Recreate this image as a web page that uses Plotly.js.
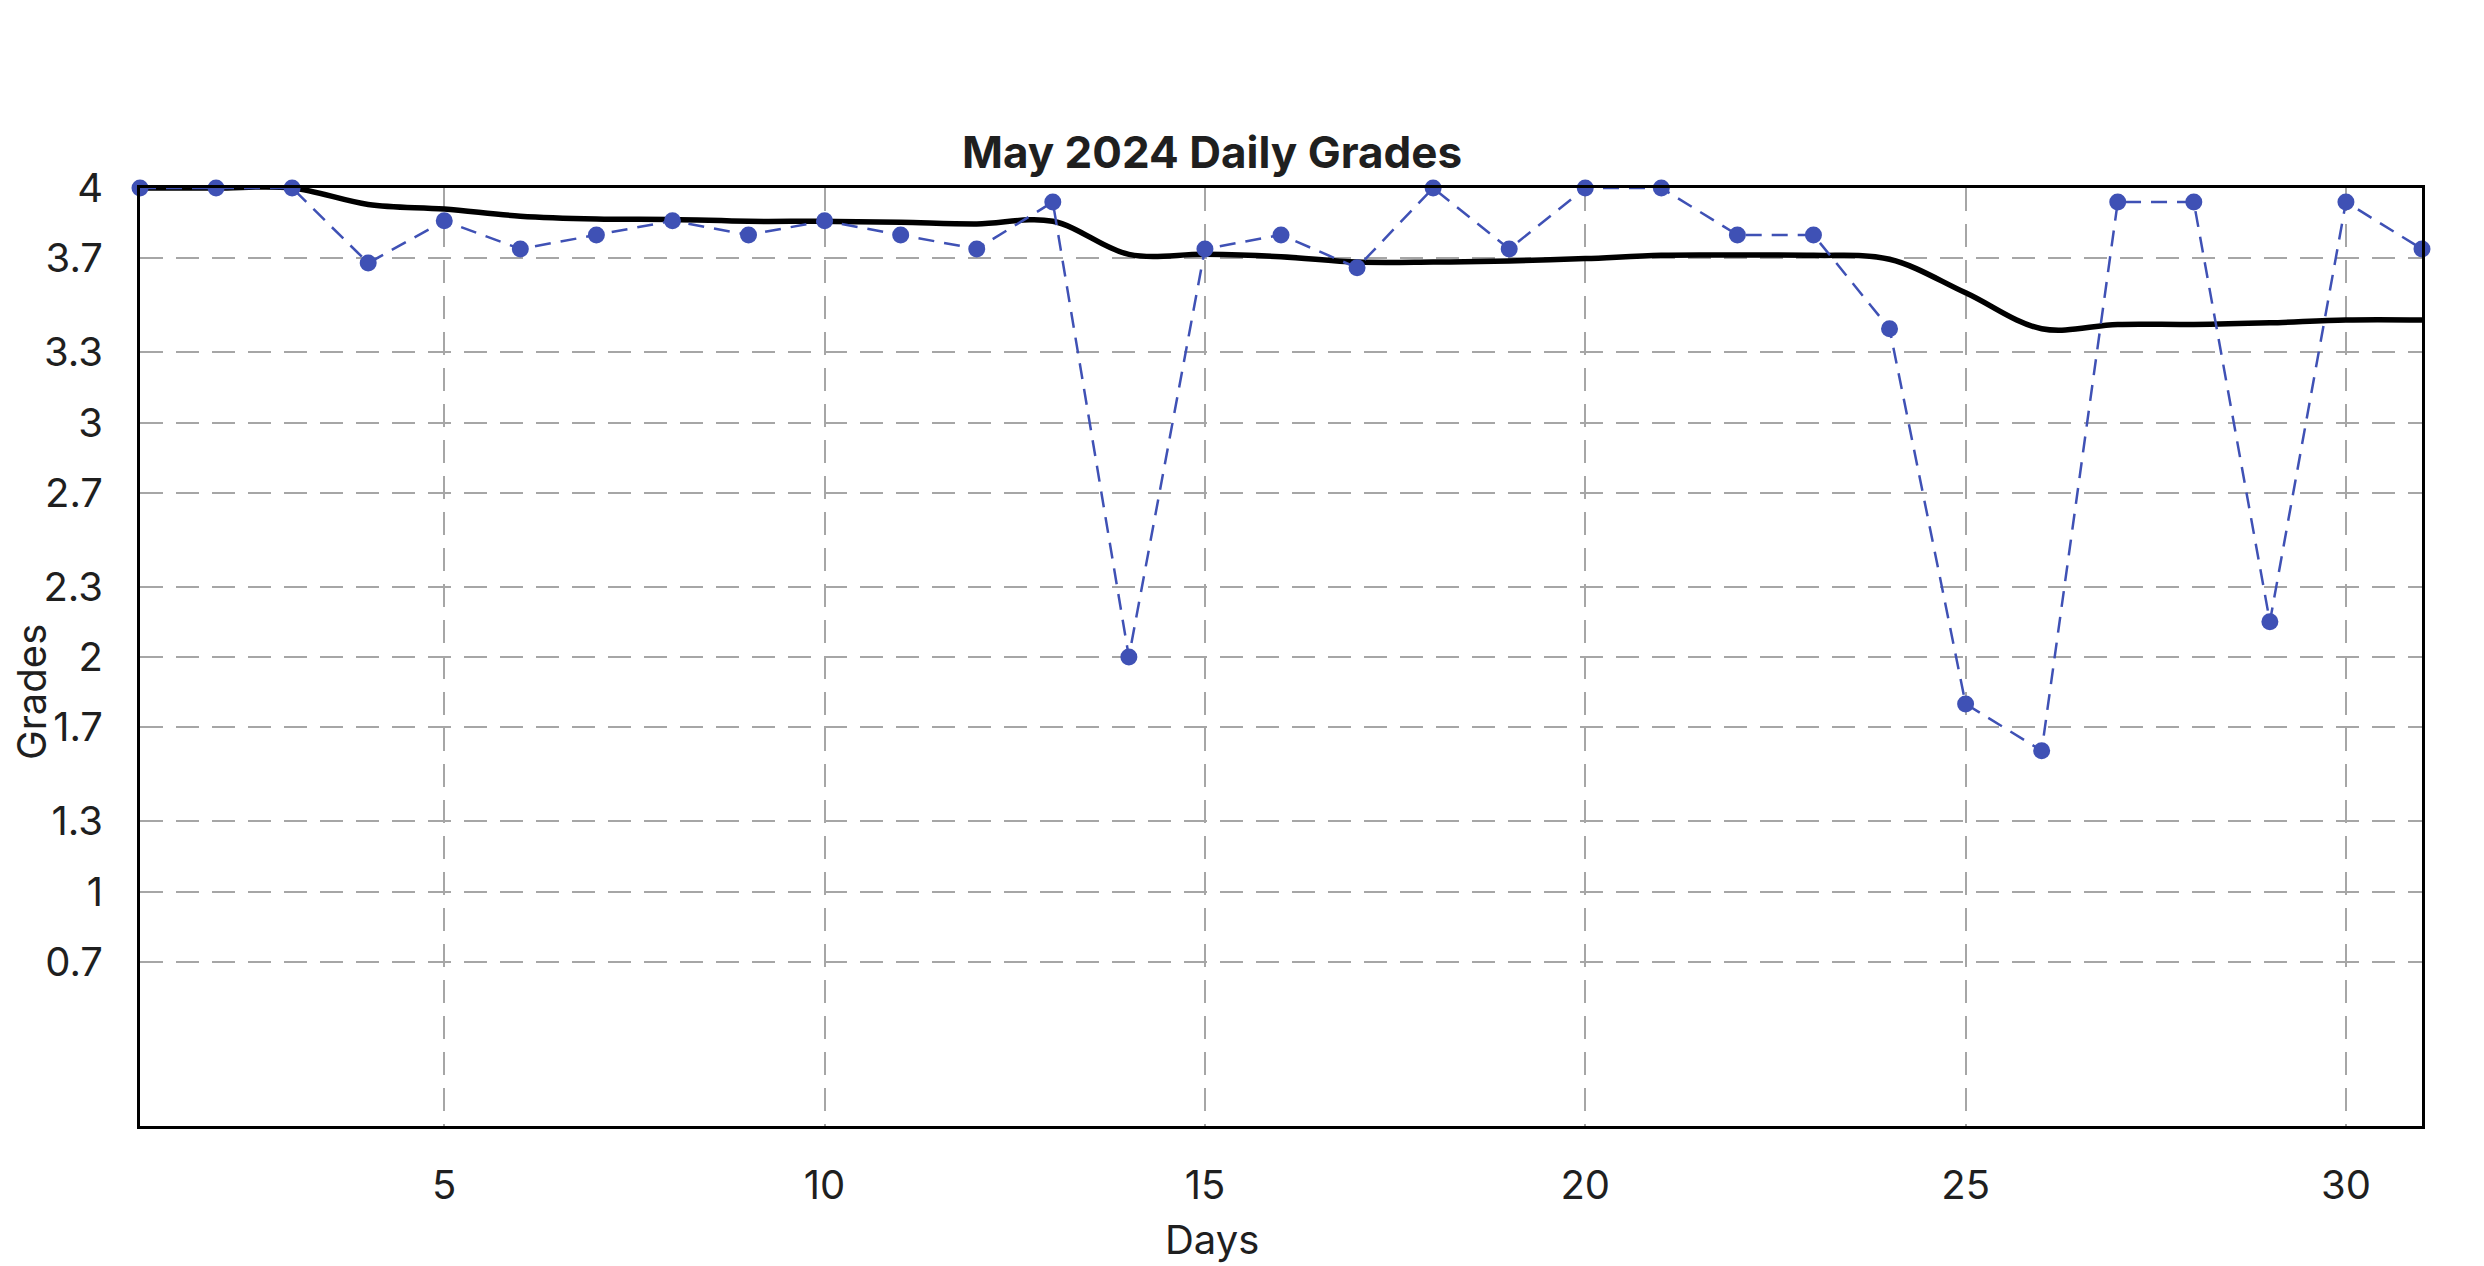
<!DOCTYPE html>
<html>
<head>
<meta charset="utf-8">
<script src="https://cdn.plot.ly/plotly-3.0.1.min.js"></script>
<style>
  html, body { margin: 0; padding: 0; background: #ffffff; }
  #chart { width: 2484px; height: 1266px; }
</style>
</head>
<body>
<div id="chart"></div>
<script>
// ---- data ----
const days = [1,2,3,4,5,6,7,8,9,10,11,12,13,14,15,16,17,18,19,20,21,22,23,24,25,26,27,28,29,30,31];
const dailyGrades = [4.0,4.0,4.0,3.68,3.86,3.74,3.80,3.86,3.80,3.86,3.80,3.74,3.94,2.00,3.74,3.80,3.66,4.0,3.74,4.0,4.0,3.80,3.80,3.40,1.80,1.60,3.94,3.94,2.15,3.94,3.74];
const trendGrades = [4.0,4.0,4.0,3.93,3.91,3.88,3.868,3.866,3.858,3.858,3.854,3.847,3.858,3.717,3.717,3.707,3.684,3.684,3.689,3.699,3.713,3.714,3.713,3.696,3.553,3.40,3.418,3.418,3.425,3.437,3.437];
const xTickVals = [5,10,15,20,25,30];
const yTickVals = [4,3.7,3.3,3,2.7,2.3,2,1.7,1.3,1,0.7];
const yTickText = ['4','3.7','3.3','3','2.7','2.3','2','1.7','1.3','1','0.7'];
const chartTitle = 'May 2024 Daily Grades';
const xTitle = 'Days';
const yTitle = 'Grades';

const FONT = 'Inter, "Noto Sans", sans-serif';
const TEXT = '#1f1f1f';
const GRID = '#a6a6a6';

const traces = [
  {
    x: days, y: trendGrades, type: 'scatter', mode: 'lines',
    line: { color: '#000000', width: 5.5, shape: 'spline' },
    hoverinfo: 'skip', showlegend: false, cliponaxis: false
  },
  {
    x: days, y: dailyGrades, type: 'scatter', mode: 'lines+markers',
    line: { color: '#3f51b5', width: 2.5, dash: '16px,10px' },
    marker: { color: '#3f51b5', size: 17 },
    showlegend: false, cliponaxis: false
  }
];

const layout = {
  width: 2484, height: 1266, autosize: false,
  paper_bgcolor: '#ffffff', plot_bgcolor: '#ffffff',
  margin: { l: 140, r: 62, t: 188, b: 140, pad: 0 },
  font: { family: FONT, size: 40, color: TEXT },
  showlegend: false,
  title: {
    text: chartTitle,
    font: { family: FONT, size: 44, color: TEXT, weight: 700 },
    x: 0.4698, xref: 'paper', xanchor: 'center',
    y: 1 - 153 / 1266, yref: 'container', yanchor: 'middle'
  },
  xaxis: {
    range: [1, 31], tickmode: 'array', tickvals: xTickVals,
    showgrid: true, gridcolor: GRID, gridwidth: 2, griddash: '23px,13px',
    zeroline: false, showline: true, linecolor: '#000000', linewidth: 3, mirror: true,
    ticks: '', ticklabelstandoff: 22,
    tickfont: { family: FONT, size: 40, color: TEXT }
  },
  yaxis: {
    range: [0, 4], tickmode: 'array', tickvals: yTickVals, ticktext: yTickText,
    showgrid: true, gridcolor: GRID, gridwidth: 2, griddash: '23px,13px',
    zeroline: false, showline: true, linecolor: '#000000', linewidth: 3, mirror: true,
    ticks: '', ticklabelstandoff: 26,
    tickfont: { family: FONT, size: 40, color: TEXT }
  },
  annotations: [
    {
      text: xTitle, xref: 'paper', yref: 'paper',
      x: 0.4698, y: -0.1205, xanchor: 'center', yanchor: 'middle',
      showarrow: false, font: { family: FONT, size: 40, color: TEXT }
    },
    {
      text: yTitle, xref: 'paper', yref: 'paper', textangle: -90,
      x: -0.0473, y: 0.4627, xanchor: 'center', yanchor: 'middle',
      showarrow: false, font: { family: FONT, size: 40, color: TEXT }
    }
  ]
};

Plotly.newPlot('chart', traces, layout, { staticPlot: true, displayModeBar: false });
</script>
</body>
</html>
